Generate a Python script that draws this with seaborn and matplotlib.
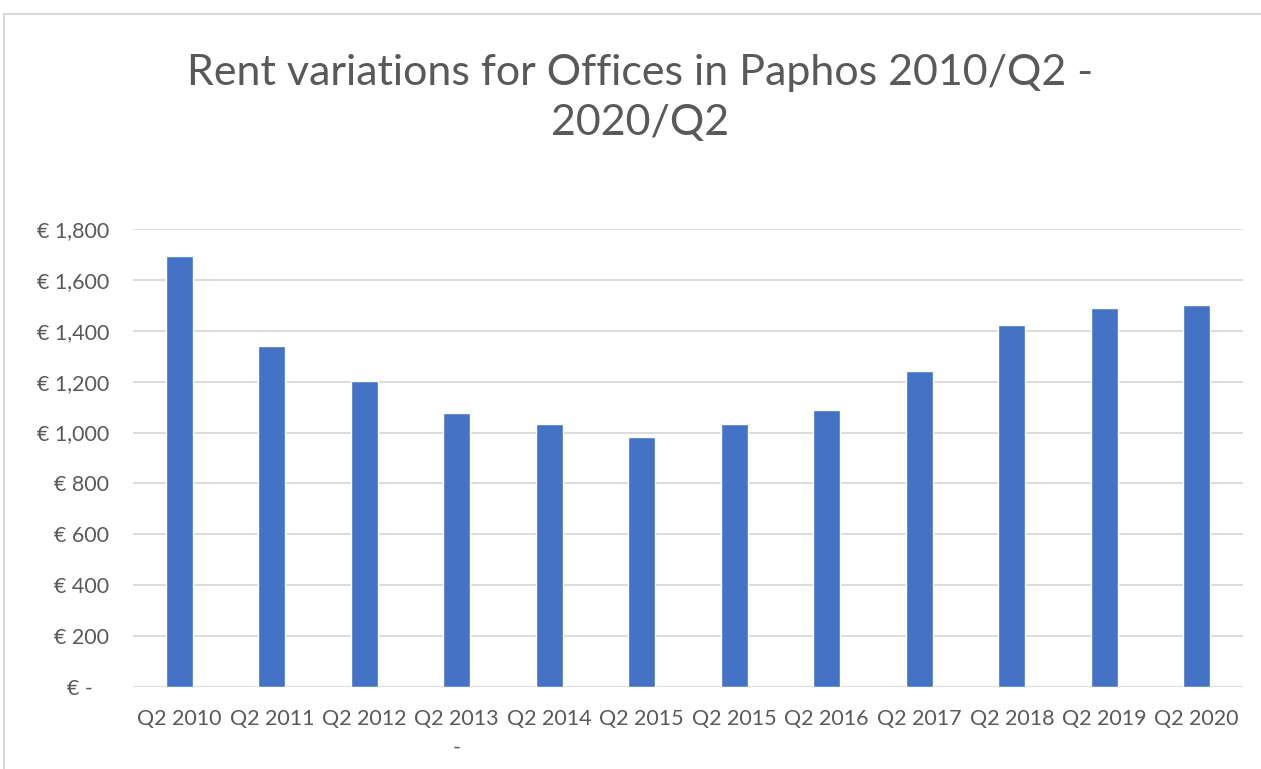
import pandas as pd
import matplotlib.pyplot as plt
import matplotlib.patches as patches
from matplotlib.ticker import FuncFormatter, MultipleLocator
import seaborn as sns

quarters = ['Q2 2010', 'Q2 2011', 'Q2 2012', 'Q2 2013\n-', 'Q2 2014', 'Q2 2015',
            'Q2 2015', 'Q2 2016', 'Q2 2017', 'Q2 2018', 'Q2 2019', 'Q2 2020']
rents = [1694, 1340, 1203, 1076, 1033, 983, 1034, 1088, 1243, 1423, 1491, 1502]

TEXT = '#595959'
BAR = '#4472C4'


def euro(v, pos):
    # accounting style: zero shown as a dash, padded like Excel does
    if v == 0:
        return '€ -   '
    return '€ {:,.0f}'.format(v)


def main():
    sns.set_theme(style='white')
    plt.rcParams['font.family'] = ['Lato', 'DejaVu Sans']

    df = pd.DataFrame({'idx': range(len(quarters)), 'rent': rents})

    fig = plt.figure(figsize=(12.61, 7.69), dpi=100)
    ax = fig.add_axes([133 / 1261, 1 - 687 / 769, 1110 / 1261, 458 / 769])
    sns.barplot(data=df, x='idx', y='rent', color=BAR, width=0.29, saturation=1, ax=ax, zorder=3)

    ax.set_ylim(0, 1800)
    ax.yaxis.set_major_locator(MultipleLocator(200))
    ax.yaxis.set_major_formatter(FuncFormatter(euro))
    ax.set_xticks(range(len(quarters)))
    ax.set_xticklabels(quarters, va='top', linespacing=1.5)
    ax.grid(axis='y', color='#d9d9d9', linewidth=1.3, zorder=0)
    ax.set_axisbelow(True)
    for s in ax.spines.values():
        s.set_visible(False)
    ax.tick_params(axis='both', length=0, labelsize=15.5, labelcolor=TEXT)
    ax.tick_params(axis='y', pad=17)
    ax.tick_params(axis='x', pad=16)
    ax.set_xlabel('')
    ax.set_ylabel('')

    fig.text(640 / 1261, 1 - 98 / 769, 'Rent variations for Offices in Paphos 2010/Q2 -\n2020/Q2',
             ha='center', va='center', fontsize=31, color=TEXT, linespacing=1.4)

    # chart border
    fig.patches.append(patches.Rectangle((4 / 1261, -0.2), 1.5, 1 - 14 / 769 + 0.2,
                                         transform=fig.transFigure, fill=False,
                                         edgecolor='#d9d9d9', linewidth=1.5))

    fig.savefig('out.png', dpi=100)
    plt.close(fig)


if __name__ == '__main__':
    main()
